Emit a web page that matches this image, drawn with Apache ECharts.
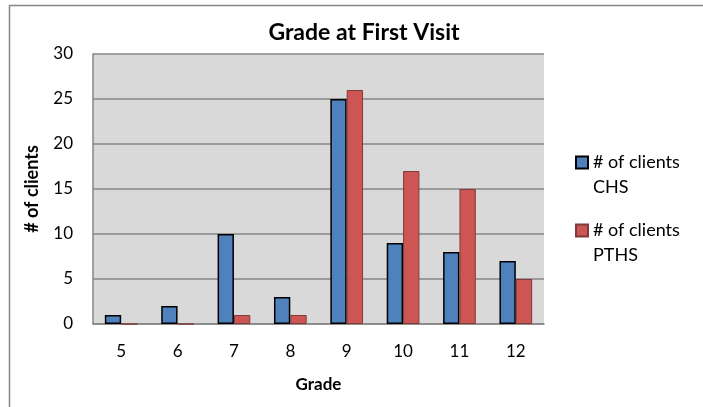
<!DOCTYPE html>
<html>
<head>
<meta charset="utf-8">
<script src="https://cdn.jsdelivr.net/npm/echarts@6/dist/echarts.min.js"></script>
<style>html,body{margin:0;padding:0;background:#fff}#c{width:703px;height:407px}</style>
</head>
<body>
<div id="c"></div>
<script>
const categories = ['5','6','7','8','9','10','11','12'];
const chsValues = [1, 2, 10, 3, 25, 9, 8, 7];
const pthsValues = [0, 0, 1, 1, 26, 17, 15, 5];
const seriesNames = ['# of clients\nCHS', '# of clients\nPTHS'];
const yTicks = { min: 0, max: 30, interval: 5 };

const FONT = 'Lato';
const chart = echarts.init(document.getElementById('c'), null, { renderer: 'canvas' });
chart.setOption({
  animation: false,
  backgroundColor: '#fff',
  title: {
    text: 'Grade at First Visit',
    left: 364, top: 21, textAlign: 'center', padding: 0,
    textStyle: { fontFamily: FONT, fontWeight: 'bold', fontSize: 23, color: '#000' }
  },
  graphic: [{
    type: 'rect', left: 7, top: 3, shape: { width: 700, height: 403 },
    style: { fill: 'none', stroke: '#868686', lineWidth: 1.5 }, silent: true, z: -1
  }],
  legend: {
    orient: 'vertical', left: 575, top: 125, padding: 0,
    icon: 'rect',
    itemWidth: 12, itemHeight: 12, itemGap: -7,
    formatter: function (n) { return '\n' + n; },
    textStyle: { fontFamily: FONT, fontSize: 18, color: '#000', lineHeight: 25 },
    data: seriesNames
  },
  grid: { left: 93, right: 159, top: 54, bottom: 83, show: true, backgroundColor: '#D9D9D9', borderWidth: 0 },
  xAxis: {
    type: 'category', data: categories,
    name: 'Grade', nameLocation: 'middle', nameGap: 52,
    nameTextStyle: { fontFamily: FONT, fontWeight: 'bold', fontSize: 17, color: '#000' },
    axisLine: { lineStyle: { color: '#868686', width: 1.5 } },
    axisTick: { show: false },
    axisLabel: { fontFamily: FONT, fontSize: 17, color: '#000', margin: 19 }
  },
  yAxis: {
    type: 'value', min: yTicks.min, max: yTicks.max, interval: yTicks.interval,
    name: '# of clients', nameLocation: 'middle', nameGap: 52, nameRotate: 90,
    nameTextStyle: { fontFamily: FONT, fontWeight: 'bold', fontSize: 18, color: '#000' },
    axisLine: { show: true, lineStyle: { color: '#868686', width: 1.5 } },
    axisTick: { show: false },
    axisLabel: { fontFamily: FONT, fontSize: 17, color: '#000', margin: 20 },
    splitLine: { lineStyle: { color: '#868686', width: 1.5 } }
  },
  series: [
    { name: seriesNames[0], type: 'bar', data: chsValues, barWidth: '29%', barGap: '0%',
      itemStyle: { color: '#4F81BD', borderColor: '#000', borderWidth: 1.5 } },
    { name: seriesNames[1], type: 'bar', data: pthsValues, barWidth: '29%', barGap: '0%',
      itemStyle: { color: '#CD5553', borderColor: '#7F3B3A', borderWidth: 1 } }
  ]
});
</script>
</body>
</html>
